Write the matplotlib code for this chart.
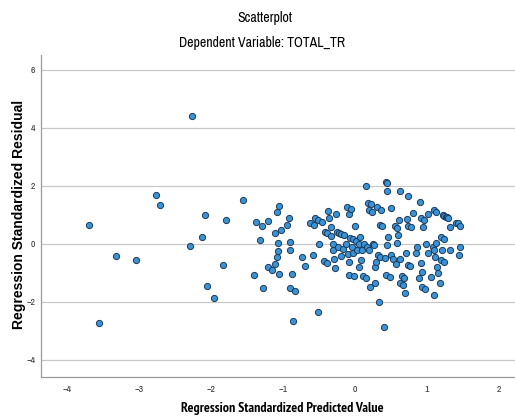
import matplotlib
matplotlib.use("Agg")
import matplotlib.pyplot as plt

# standardized predicted value (x) and standardized residual (y)
pred_x = [
    -2.27, -3.70, -3.56, -3.32, -3.04, -2.76, -2.71, -2.29, -2.13, -2.09, -2.06, -1.96,
    -1.83, -1.79, -1.55, -1.40, -1.37, -1.32, -1.29, -1.28, -1.21, -1.21, -1.16, -1.11,
    -1.11, -1.09, -1.08, -1.07, -1.07, -1.05, -1.05, -1.03,
    -0.95, -0.92, -0.90, -0.90, -0.88, -0.91, -0.84, -0.86,
    -0.73, -0.70, -0.62, -0.59, -0.57, -0.56, -0.52, -0.52, -0.50, -0.46, -0.43, -0.42,
    -0.39, -0.39, -0.37, -0.36, -0.33, -0.33, -0.31, -0.30, -0.29, -0.28, -0.26, -0.25,
    -0.24, -0.22, -0.20, -0.19, -0.17, -0.15, -0.12, -0.11, -0.10, -0.09, -0.09, -0.08,
    -0.07, -0.05, -0.04, -0.03, -0.03, -0.02, 0.00, 0.01, 0.03, 0.05, 0.06, 0.07,
    0.08, 0.10, 0.11, 0.12, 0.15, 0.15, 0.17, 0.18, 0.19, 0.20, 0.21, 0.22,
    0.23, 0.25, 0.26, 0.27, 0.27, 0.29, 0.31, 0.32, 0.33, 0.34, 0.35, 0.36,
    0.37, 0.40, 0.41,
    0.43, 0.44, 0.45, 0.43, 0.45, 0.46, 0.49, 0.50, 0.50, 0.52, 0.56, 0.57,
    0.58, 0.58, 0.59, 0.61, 0.62, 0.63, 0.62, 0.65, 0.66, 0.68, 0.69, 0.70,
    0.72, 0.73, 0.74, 0.74, 0.76, 0.78, 0.81, 0.84, 0.86, 0.89, 0.90, 0.91,
    0.92, 0.93, 0.93, 0.94, 0.96, 0.97, 0.99, 1.01, 1.01, 1.05, 1.08, 1.09,
    1.09, 1.09, 1.11, 1.12, 1.13, 1.14, 1.15, 1.18, 1.19, 1.19, 1.20, 1.22,
    1.23, 1.23, 1.24, 1.26, 1.28, 1.29, 1.32, 1.32, 1.40, 1.43, 1.44, 1.45,
    1.46,
]
resid_y = [
    4.42, 0.66, -2.73, -0.41, -0.56, 1.69, 1.34, -0.06, 0.24, 0.99, -1.45, -1.86,
    -0.71, 0.82, 1.52, -1.07, 0.75, 0.15, 0.62, -1.51, 0.78, -0.80, -0.91, 0.37,
    -0.70, -0.45, 1.11, -0.23, 0.05, 1.32, -1.03, 0.48,
    0.66, 0.89, 0.07, -0.21, -1.02, -1.51, -1.62, -2.66,
    -0.44, -0.75, 0.74, -0.38, 0.64, 0.89, 0.83, -2.33, 0.00, 0.77, -0.59, 0.43,
    -0.64, 0.39, 1.14, 0.89, 0.28, 0.57, -0.21, 0.00, -0.53, -0.84, 1.03, 0.43,
    -0.09, 0.39, -0.40, 0.34, -0.17, 0.31, -0.01, 1.26, -0.35, 1.03, -0.62, -1.07,
    0.22, 1.20, -0.12, 0.16, -0.32, -1.10, 0.62, 0.11, -0.21, -0.01, -0.78, 0.25,
    -0.55, -0.21, -1.10, 0.00, 2.00, -1.18, -0.09, 1.42, -0.21, 1.17, -1.50, 1.37,
    1.09, 0.00, -0.03, -0.80, -1.33, -0.61, 1.26, -0.38, -1.99, -0.44, 0.64, 1.17,
    0.62, -2.87, -0.49,
    2.13, 2.11, 1.83, -1.07, -0.03, 0.23, -1.13, 1.23, -0.38, -0.53, 0.62, -0.70,
    0.54, 0.05, 0.31, 0.83, -0.53, 1.84, -1.33, -1.10, -1.41, -1.16, -1.68, -0.32,
    0.87, 0.62, 1.67, -0.72, -0.76, 0.57, 1.06, -0.32, -0.09, -1.18, 1.45, 0.91,
    -0.67, -0.95, -1.47, 0.60, 0.83, -1.56, 0.00, 1.03, -0.30, -1.15, -0.09, 1.17,
    -0.21, -1.75, -0.44, 0.05, 1.11, -0.78, -0.99, -1.33, 0.23, -0.55, -0.21, 1.00,
    0.16, -0.61, 0.98, 0.94, 0.92, 0.89, 0.57, -0.21, 0.73, 0.71, -0.38, -0.12,
    0.63,
]
x_ticks = [-4, -3, -2, -1, 0, 1, 2]
y_ticks = [-4, -2, 0, 2, 4, 6]

NARROW = ["Archivo Narrow", "Liberation Sans", "DejaVu Sans"]
NARROW_BOLD = ["PT Sans Narrow", "Open Sans Condensed", "DejaVu Sans"]
plt.rcParams["font.family"] = NARROW

fig = plt.figure(figsize=(5.15, 4.19), dpi=100)
ax = fig.add_axes([0.0796, 0.100, 0.9204, 0.769])

ax.scatter(pred_x, resid_y, s=20, facecolor="#3a93d6", edgecolor="#1c3a5a",
           linewidth=0.7, zorder=3)

ax.set_xlim(-4.36, 2.22)
ax.set_ylim(-4.59, 6.52)
ax.set_xticks(x_ticks)
ax.set_yticks(y_ticks)
ax.yaxis.grid(True, color="#c8c8c8", linewidth=0.9)
ax.set_axisbelow(True)
ax.tick_params(length=0, labelsize=7, labelcolor="#333333")
ax.tick_params(axis="x", pad=6)
ax.tick_params(axis="y", pad=4)
for side in ["top", "right"]:
    ax.spines[side].set_visible(False)
for side in ["left", "bottom"]:
    ax.spines[side].set_color("#9a9a9a")
    ax.spines[side].set_linewidth(0.9)

fig.text(0.548, 0.026, "Regression Standardized Predicted Value", ha="center",
         va="center", fontsize=10, fontweight="bold", family=NARROW_BOLD)
fig.text(0.037, 0.488, "Regression Standardized Residual", ha="center",
         va="center", rotation=90, fontsize=10, fontweight="bold",
         family=["Liberation Sans", "DejaVu Sans"])

fig.text(0.515, 0.957, "Scatterplot", ha="center", va="center", fontsize=10)
fig.text(0.508, 0.897, "Dependent Variable: TOTAL_TR", ha="center", va="center",
         fontsize=10)

fig.savefig("out.png", dpi=100)
